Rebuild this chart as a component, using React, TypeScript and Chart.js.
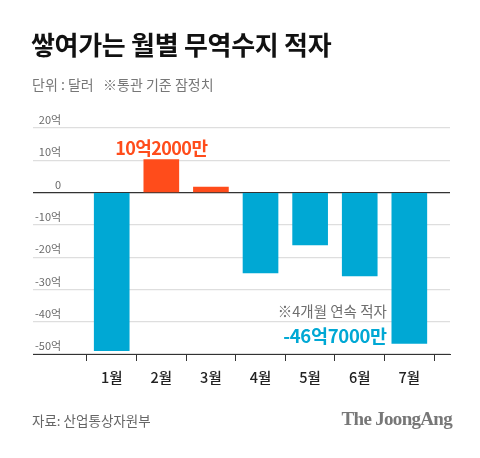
import React, { useEffect, useRef } from "react";
import { Chart, registerables } from "chart.js";

Chart.register(...registerables);

const months = ["1월", "2월", "3월", "4월", "5월", "6월", "7월"];
const balance = [-49.0, 10.2, 1.7, -24.9, -16.2, -25.8, -46.7];
const yTickValues = [20, 10, 0, -10, -20, -30, -40, -50];
const posLabel = "10억2000만";
const negLabel = "-46억7000만";
const noteLabel = "※4개월 연속 적자";

const ORANGE = "#ff4c1b";
const BLUE = "#00a8d4";
const FONT = "'Noto Sans CJK KR', 'Noto Sans', sans-serif";

const annotationPlugin = {
  id: "annotations",
  afterDatasetsDraw(chart: any) {
    const meta = chart.getDatasetMeta(0);
    const ctx = chart.ctx;
    ctx.save();
    // positive highlight (Feb)
    const feb: any = meta.data[1];
    ctx.font = `700 18px ${FONT}`;
    ctx.fillStyle = ORANGE;
    ctx.textAlign = "center";
    ctx.textBaseline = "alphabetic";
    (ctx as any).letterSpacing = "-0.6px";
    ctx.fillText(posLabel, feb.x, feb.y - 5);
    // negative highlight (Jul)
    const jul: any = meta.data[6];
    const left = jul.x - jul.width / 2 - 5;
    ctx.textAlign = "right";
    ctx.fillStyle = BLUE;
    ctx.font = `700 18.5px ${FONT}`;
    (ctx as any).letterSpacing = "-0.3px";
    ctx.fillText(negLabel, left, jul.y);
    ctx.font = `400 14.5px ${FONT}`;
    (ctx as any).letterSpacing = "0px";
    ctx.fillStyle = "#6e6e6e";
    ctx.fillText(noteLabel, left, jul.y - 26);
    ctx.restore();
  },
};

export default function App() {
  const ref = useRef<HTMLCanvasElement>(null);

  useEffect(() => {
    if (!ref.current) return;
    Chart.defaults.font.family = FONT;
    const chart = new Chart(ref.current, {
      type: "bar",
      data: {
        datasets: [
          {
            data: balance.map((v, i) => ({ x: i + 1, y: v })),
            backgroundColor: balance.map((v) => (v >= 0 ? ORANGE : BLUE)),
            barThickness: 35,
            borderWidth: 0,
          },
        ],
      },
      options: {
        animation: false,
        responsive: false,
        events: [],
        layout: { padding: { left: 33, right: 30, top: 128, bottom: 64 } },
        plugins: { legend: { display: false }, tooltip: { enabled: false } },
        scales: {
          x: {
            type: "linear",
            min: -0.587,
            max: 7.82,
            offset: false,
            afterBuildTicks: (s: any) => {
              s.ticks = months.map((_, i) => ({ value: i + 1 }));
            },
            afterFit: (s: any) => {
              s.height = 40;
            },
            grid: {
              display: true,
              drawOnChartArea: false,
              drawTicks: true,
              tickLength: 7,
              color: "#333",
            },
            border: { display: true, color: "#333", width: 1 },
            ticks: {
              autoSkip: false,
              maxRotation: 0,
              padding: 8,
              color: "#222",
              font: { size: 14.5, weight: 500 },
              callback: (v: any) => months[Number(v) - 1] ?? "",
            },
          },
          y: {
            min: -50,
            max: 20,
            afterBuildTicks: (s: any) => {
              s.ticks = yTickValues.map((v) => ({ value: v }));
            },
            afterFit: (s: any) => {
              s.width = 0;
            },
            grid: {
              drawTicks: false,
              color: (c: any) => (c.tick && c.tick.value === 0 ? "#333" : "#dedede"),
              lineWidth: (c: any) => (c.tick && c.tick.value === 0 ? 1.3 : 1.2),
            },
            border: { display: false },
            ticks: {
              mirror: true,
              crossAlign: "far",
              padding: 2,
              labelOffset: -8,
              color: "#6a6a6a",
              font: { size: 11 },
              callback: (v: any) => (Number(v) === 0 ? "0" : `${v}억`),
            },
          },
        },
      },
      plugins: [annotationPlugin],
    } as any);
    return () => chart.destroy();
  }, []);

  return (
    <div
      style={{
        position: "absolute",
        left: 0,
        top: 0,
        width: 480,
        height: 458,
        background: "#fff",
        overflow: "hidden",
        fontFamily: FONT,
      }}
    >
      <canvas
        ref={ref}
        width={480}
        height={458}
        style={{ position: "absolute", left: 0, top: 0, width: 480, height: 458 }}
      />
      <div
        style={{
          position: "absolute",
          left: 31,
          top: 27,
          fontSize: 26,
          fontWeight: 700,
          letterSpacing: "-0.3px",
          color: "#111",
          lineHeight: "34px",
          whiteSpace: "nowrap",
        }}
      >
        쌓여가는 월별 무역수지 적자
      </div>
      <div
        style={{
          position: "absolute",
          left: 32,
          top: 74,
          fontSize: 14,
          letterSpacing: "0px",
          color: "#777",
          lineHeight: "20px",
          whiteSpace: "pre",
        }}
      >
        {"단위 : 달러   ※통관 기준 잠정치"}
      </div>
      <div
        style={{
          position: "absolute",
          left: 32,
          top: 410,
          fontSize: 13.5,
          letterSpacing: "0px",
          color: "#666",
          lineHeight: "20px",
          whiteSpace: "nowrap",
        }}
      >
        자료: 산업통상자원부
      </div>
      <div
        style={{
          position: "absolute",
          right: 28,
          top: 407,
          fontFamily: "'Liberation Serif', 'DejaVu Serif', serif",
          fontSize: 19,
          fontWeight: 700,
          letterSpacing: "-0.7px",
          color: "#777",
          lineHeight: "24px",
          whiteSpace: "nowrap",
        }}
      >
        The JoongAng
      </div>
    </div>
  );
}
